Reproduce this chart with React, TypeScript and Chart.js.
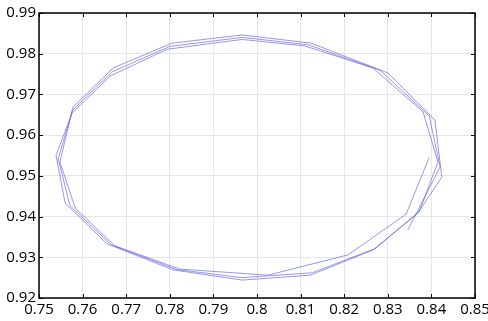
import React, { useEffect, useRef } from "react";
import { Chart, registerables } from "chart.js";

Chart.register(...registerables);

const xValues: number[] = [
  0.8395, 0.8342, 0.8209, 0.8025, 0.7823, 0.7674, 0.7583, 0.7548, 0.7578, 0.767, 0.7805, 0.7966, 0.8124, 0.83, 0.8408, 0.8424,
  0.8369, 0.8266, 0.8122, 0.7966, 0.7808, 0.7656, 0.756, 0.7539, 0.7576, 0.7663, 0.7794, 0.7966, 0.811, 0.8266, 0.8381, 0.8415,
  0.8372, 0.8272, 0.8127, 0.7966, 0.7815, 0.7665, 0.7571, 0.7544, 0.7577, 0.7667, 0.78, 0.7966, 0.8117, 0.8283, 0.8395, 0.842,
  0.8346,
];
const yValues: number[] = [
  0.9545, 0.9406, 0.9306, 0.9256, 0.9271, 0.9328, 0.9421, 0.9534, 0.9669, 0.9765, 0.9826, 0.9846, 0.9826, 0.9753, 0.9637, 0.9497,
  0.9409, 0.9318, 0.9256, 0.9244, 0.9269, 0.9333, 0.9433, 0.9551, 0.9654, 0.9745, 0.9811, 0.9835, 0.9819, 0.9765, 0.9657, 0.9534,
  0.9412, 0.9322, 0.9262, 0.925, 0.927, 0.9331, 0.9427, 0.9542, 0.9661, 0.9755, 0.9818, 0.984, 0.9822, 0.9759, 0.9647, 0.9522,
  0.9367,
];
const xTicks: number[] = [0.75, 0.76, 0.77, 0.78, 0.79, 0.8, 0.81, 0.82, 0.83, 0.84, 0.85];
const yTicks: number[] = [0.92, 0.93, 0.94, 0.95, 0.96, 0.97, 0.98, 0.99];

const innerTicks = {
  id: "innerTicks",
  afterDraw(chart: any) {
    const { ctx, chartArea } = chart;
    const xs = chart.scales.x;
    const ys = chart.scales.y;
    ctx.save();
    ctx.strokeStyle = "#000";
    ctx.lineWidth = 1;
    const len = 4;
    ctx.beginPath();
    xTicks.forEach((v) => {
      const px = Math.round(xs.getPixelForValue(v)) + 0.5;
      ctx.moveTo(px, chartArea.bottom);
      ctx.lineTo(px, chartArea.bottom - len);
      ctx.moveTo(px, chartArea.top);
      ctx.lineTo(px, chartArea.top + len);
    });
    yTicks.forEach((v) => {
      const py = Math.round(ys.getPixelForValue(v)) + 0.5;
      ctx.moveTo(chartArea.left, py);
      ctx.lineTo(chartArea.left + len, py);
      ctx.moveTo(chartArea.right, py);
      ctx.lineTo(chartArea.right - len, py);
    });
    ctx.stroke();
    ctx.lineWidth = 1.5;
    ctx.strokeRect(chartArea.left, chartArea.top, chartArea.right - chartArea.left, chartArea.bottom - chartArea.top);
    ctx.restore();
  },
};

export default function App() {
  const ref = useRef<HTMLCanvasElement>(null);
  useEffect(() => {
    if (!ref.current) return;
    const data = xValues.map((x, i) => ({ x, y: yValues[i] }));
    const chart = new Chart(ref.current, {
      type: "scatter",
      data: {
        datasets: [
          {
            data,
            showLine: true,
            borderColor: "rgba(80,80,225,0.75)",
            borderWidth: 0.8,
            pointRadius: 0,
            fill: false,
            tension: 0,
          },
        ],
      },
      options: {
        animation: false,
        responsive: false,
        maintainAspectRatio: false,
        layout: { padding: { top: 13, right: 13, left: 0, bottom: 0 } },
        plugins: { legend: { display: false }, tooltip: { enabled: false } },
        scales: {
          x: {
            type: "linear",
            min: 0.75,
            max: 0.85,
            afterBuildTicks: (s: any) => {
              s.ticks = xTicks.map((v) => ({ value: v }));
            },
            afterFit: (s: any) => {
              s.height = 23;
              s.paddingRight = 0;
              s.paddingLeft = 0;
            },
            border: { display: false },
            grid: { color: "#e6e6e6", lineWidth: 1, drawTicks: false, tickLength: 0 },
            ticks: {
              padding: 3,
              color: "#000",
              maxRotation: 0,
              autoSkip: false,
              font: { family: "Open Sans", size: 15 },
              callback: (v: any) => String(Number(v)),
            },
          },
          y: {
            type: "linear",
            min: 0.92,
            max: 0.99,
            afterBuildTicks: (s: any) => {
              s.ticks = yTicks.map((v) => ({ value: v }));
            },
            afterFit: (s: any) => {
              s.width = 39;
              s.paddingTop = 0;
              s.paddingBottom = 0;
            },
            border: { display: false },
            grid: { color: "#e6e6e6", lineWidth: 1, drawTicks: false, tickLength: 0 },
            ticks: {
              padding: 3,
              color: "#000",
              autoSkip: false,
              font: { family: "Open Sans", size: 15 },
              callback: (v: any) => String(Number(v)),
            },
          },
        },
      },
      plugins: [innerTicks],
    });
    return () => chart.destroy();
  }, []);
  return (
    <div style={{ position: "fixed", left: 0, top: 0, width: 488, height: 321, background: "#fff" }}>
      <canvas ref={ref} width={488} height={321} style={{ display: "block", width: 488, height: 321 }} />
    </div>
  );
}
